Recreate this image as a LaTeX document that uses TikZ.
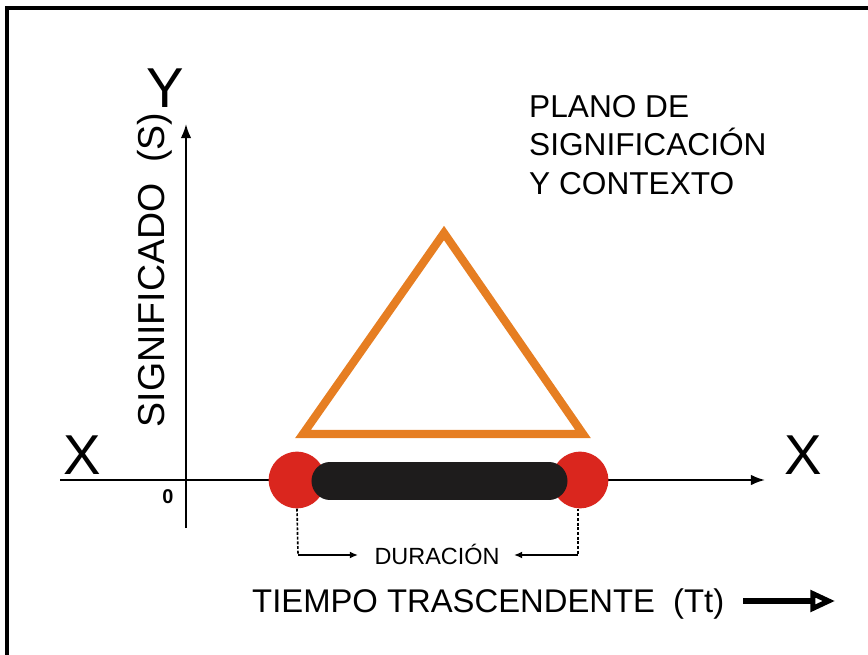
\documentclass[tikz,border=0pt]{standalone}
\usepackage{fontspec}
\setmainfont{Liberation Sans}
\usetikzlibrary{arrows.meta}
\definecolor{triorange}{RGB}{230,126,34}
\definecolor{dotred}{RGB}{218,38,30}
\definecolor{barblack}{RGB}{30,28,28}
\begin{document}
\begin{tikzpicture}[x=0.03cm,y=-0.03cm]
\tikzstyle{every node}+=[inner sep=0pt]
\tikzstyle{axis}=[black,line width=1.7pt,-{Latex[length=12pt,width=9pt]}]
\tikzstyle{dot}=[circle,fill=dotred,minimum size=1.7cm]
\tikzstyle{guide}=[black,line width=1.4pt,dash pattern=on 2.5pt off 1.5pt]
\tikzstyle{guidearrow}=[black,line width=1.4pt,-{Latex[length=7pt,width=6pt]}]
\useasboundingbox (0,0) rectangle (868,655);
\clip (0,0) rectangle (868,655);
% frame
\draw [black,line width=3.4pt] (7,700) -- (7,8) -- (900,8);
% axes
\coordinate (xstart) at (60,480);
\coordinate (xend) at (765,480);
\coordinate (ystart) at (186,528);
\coordinate (yend) at (186,124);
\draw [axis] (xstart) -- (xend);
\draw [axis] (ystart) -- (yend);
\node (xl) at (82,455) {\fontsize{48}{52}\selectfont X};
\node (xr) at (803,455) {\fontsize{48}{52}\selectfont X};
\node (yl) at (165,88) {\fontsize{48}{52}\selectfont Y};
\node (zero) at (168,497) {\fontsize{17}{20}\selectfont\bfseries 0};
\node [rotate=90] (ylabel) at (155,270) {\fontsize{32}{36}\selectfont SIGNIFICADO\ \ (S)};
% plane label
\node [anchor=north west,align=left,font=\fontsize{27}{33}\selectfont] (plano) at (529,95)
  {PLANO DE\\SIGNIFICACI\'ON\\Y CONTEXTO};
% triangle
\coordinate (tritop) at (444,233);
\coordinate (trileft) at (303,434);
\coordinate (triright) at (583,434);
\draw [triorange,line width=7pt] (tritop) -- (trileft) -- (triright) -- cycle;
% duration bar
\node [dot] (start) at (297,480) {};
\node [dot] (stop) at (580,480) {};
\coordinate (barl) at (330,481);
\coordinate (barr) at (549,481);
\draw [barblack,line width=31.6pt,line cap=round] (barl) -- (barr);
% duration marks
\coordinate (cl) at (298,555);
\coordinate (cr) at (578,555);
\coordinate (al) at (358,555);
\coordinate (ar) at (514,555);
\draw [guide] (start.south) -- (cl);
\draw [guide] (stop.south -| cr) -- (cr);
\draw [guidearrow] (cl) -- (al);
\draw [guidearrow] (cr) -- (ar);
\node [anchor=base] (dur) at (437,564) {\fontsize{20}{24}\selectfont DURACI\'ON};
% time label
\node [anchor=base west] (tiempo) at (252,612)
  {\fontsize{28}{32}\selectfont TIEMPO TRASCENDENTE\ \ (Tt)};
\coordinate (ta) at (743,601);
\coordinate (tb) at (835,601);
\draw [black,line width=4.3pt,-{Triangle[open,length=21pt,width=18pt]}] (ta) -- (tb);
\end{tikzpicture}
\end{document}
